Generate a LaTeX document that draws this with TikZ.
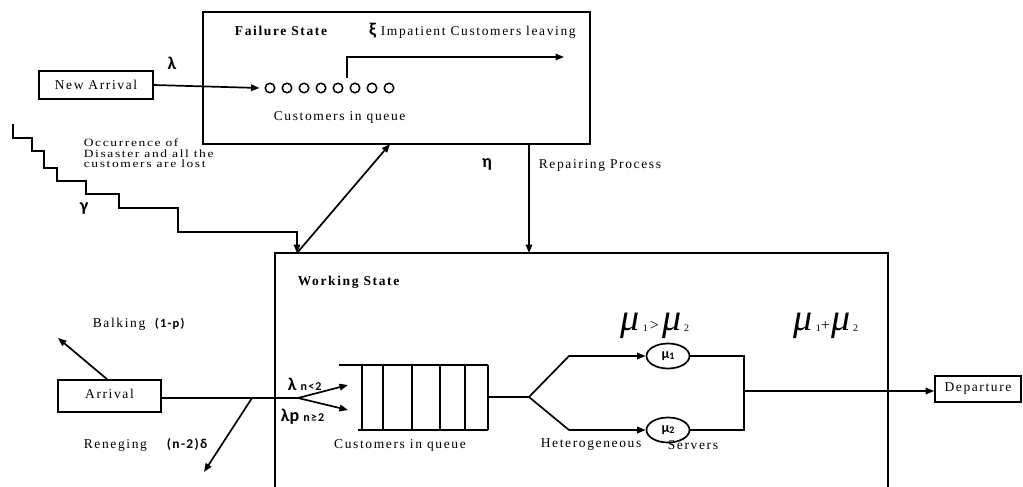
\documentclass[tikz,border=0pt]{standalone}
\usepackage{fontspec}
\setmainfont{Liberation Serif}[LetterSpace=12]
\newfontfamily\lblfont{Carlito}
\newfontfamily\lblwide{Carlito}[LetterSpace=10]
\newfontfamily\mufont{Liberation Serif}
\usetikzlibrary{arrows.meta,shapes.geometric}

% rate written as a large italic mu with a small index
\newcommand{\bigmu}[1]{{\fontsize{38}{38}\mufont\itshape μ}\hspace{3pt}\raisebox{-1pt}{\fontsize{10}{10}\mufont #1}}

\begin{document}
\begin{tikzpicture}[x=1pt,y=-1pt,line width=1.7pt,
  >={Triangle[length=8.5pt,width=6.5pt]},
  txt/.style={inner sep=0pt,font=\fontsize{13.5}{15}\selectfont},
  ttl/.style={inner sep=0pt,font=\fontsize{13.5}{15}\selectfont\bfseries},
  sym/.style={inner sep=0pt,font=\fontsize{18}{18}\lblfont\bfseries},
  tag/.style={inner sep=0pt,font=\fontsize{12.5}{13}\lblwide\bfseries},
  box/.style={draw,rectangle,inner sep=0pt,font=\fontsize{13.5}{15}\selectfont},
  cust/.style={draw,circle,minimum size=9.5pt,inner sep=0pt,line width=1.5pt},
  server/.style={draw,ellipse,minimum width=43pt,minimum height=25pt,inner sep=0pt,
    font=\fontsize{14}{14}\lblfont\bfseries}]
\useasboundingbox (0,0) rectangle (1023,487);

% ---------- failure state ----------
\node[box,minimum width=387pt,minimum height=132pt] (fail) at (396.5,78) {};
\node[ttl] (failT) at (281,31) {Failure State};
\node[sym,anchor=east] (xi) at (377,31) {ξ};
\node[txt,anchor=west] (impT) at (380,32) {Impatient Customers leaving};
\foreach \i in {1,...,8} {
  \node[cust] (c\i) at ({270+17*(\i-1)},88) {};
}
\node[txt,anchor=west] (fqT) at (273,117) {Customers in queue};
\coordinate (imp0) at (347,78);
\coordinate (impE) at (564,57);
\draw[->] (imp0) |- (impE);

% new arrivals during failure
\node[box,minimum width=114pt,minimum height=28pt] (newarr) at (96,85) {New Arrival};
\node[sym] (lam) at (172,63) {λ};
\draw[->] (newarr.east) -- ([xshift=-5pt]c1.west);

% ---------- disaster ----------
\coordinate (st0) at (13,124);
\coordinate (wt1) at (297,253);
\coordinate (fb1) at (390,144);
\draw[->] (st0) |- (32,138) |- (44,151) |- (57,168) |- (86,181) |- (119,194)
  |- (178,208) |- (297,232) -- (wt1);
\draw[->] (wt1) -- (fb1);
\node[txt,anchor=base west] (disT1) at (83,146.5) {\scalebox{1}[0.82]{Occurrence of}};
\node[txt,anchor=base west] (disT2) at (83,157) {\scalebox{1}[0.82]{Disaster and all the}};
\node[txt,anchor=base west] (disT3) at (83,167.5) {\scalebox{1}[0.82]{customers are lost}};
\node[sym] (gam) at (84,209) {γ};

% ---------- repair ----------
\coordinate (fb2) at (529,144);
\coordinate (wt2) at (529,253);
\draw[->] (fb2) -- (wt2);
\node[sym] (eta) at (487,164) {η};
\node[txt,anchor=west] (repT) at (538,165) {Repairing Process};

% ---------- working state ----------
\draw (275,487) |- (888,253) -- (888,487);
\node[ttl,anchor=west] (workT) at (297,282) {Working State};

% arrivals
\node[box,minimum width=103pt,minimum height=32pt] (arr) at (109.5,396) {\raisebox{4pt}{Arrival}};
\coordinate (split) at (298,398);
\coordinate (ren0) at (252,398);
\coordinate (renE) at (204,472);
\coordinate (balE) at (58,338);
\coordinate (inA) at (348,385);
\coordinate (inB) at (348,410);
\draw (arr.east |- split) -- (split);
\draw[->] (split) -- (inA);
\draw[->] (split) -- (inB);
\draw[->] (ren0) -- (renE);
\draw[->] ([xshift=-2.5pt]arr.north) -- (balE);
\node[txt,anchor=west] (balT) at (92,324) {Balking};
\node[tag,anchor=west] (balP) at (154,324) {(1-p)};
\node[tag,anchor=west,font=\fontsize{13.5}{14}\lblwide\bfseries] (renP) at (166,445) {(n-2)δ};
\node[txt,anchor=west] (renT) at (83,445) {Reneging};
\node[anchor=west,inner sep=0pt] (lamA) at (287,384)
  {{\fontsize{18}{18}\lblfont\bfseries λ}\hspace{4pt}{\fontsize{12}{12}\lblwide\bfseries n<2}};
\node[anchor=west,inner sep=0pt] (lamB) at (280,417)
  {{\fontsize{18}{18}\lblfont\bfseries λp}\hspace{4pt}{\fontsize{12}{12}\lblwide\bfseries n≥2}};

% waiting line
\draw (339,365) -- (488,365);
\draw (358,430) -- (488,430);
\foreach \x in {362,383,412,440,465,488} { \draw (\x,365) -- (\x,430); }
\coordinate (qout) at (488,397);
\node[txt] (wqT) at (400,445) {Customers in queue};

% two heterogeneous servers
\coordinate (fork) at (529,397);
\node[server] (s1) at (668,356) {μ\raisebox{-1.5pt}{\fontsize{10}{10}\lblfont\bfseries 1}};
\node[server] (s2) at (668,430) {μ\raisebox{-1.5pt}{\fontsize{10}{10}\lblfont\bfseries 2}};
\draw (qout) -- (fork);
\draw[->] (fork) -- (569,356) -- (s1.west);
\draw[->] (fork) -- (569,430) -- (s2.west);
\coordinate (join1) at (744,356);
\coordinate (join2) at (744,430);
\coordinate (joinM) at (744,391);
\draw (s1.east) -- (join1) -- (join2) -- (s2.east);
\node[txt,anchor=west] (hetT) at (540,445) {Heterogeneous};
\node[txt,anchor=west] (srvT) at (667,445) {Servers};
\node[inner sep=0pt] (muGt) at (655,326)
  {\bigmu{1}\hspace{2pt}{\fontsize{16}{16}\mufont >}\hspace{3pt}\bigmu{2}};
\node[inner sep=0pt] (muSum) at (826,326)
  {\bigmu{1}{\fontsize{16}{16}\mufont +}\hspace{1pt}\bigmu{2}};

% departure
\node[box,minimum width=86pt,minimum height=26pt] (dep) at (978,389) {Departure};
\draw[->] (joinM) -- (dep.west |- joinM);
\end{tikzpicture}
\end{document}
